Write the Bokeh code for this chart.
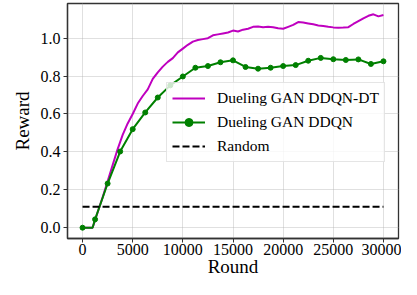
from bokeh.plotting import figure
from bokeh.models import FixedTicker, NumeralTickFormatter, Range1d, Legend, LegendItem
from bokeh.embed import file_html
from bokeh.resources import INLINE

# DDQN-DT (magenta), sampled every 500 rounds
dt_rounds = list(range(0, 30001, 500))
dt_reward = [0.0, 0.0, 0.0, 0.08, 0.16, 0.245, 0.33, 0.415, 0.49, 0.55,
             0.60, 0.655, 0.695, 0.73, 0.785, 0.82, 0.85, 0.875, 0.895, 0.925,
             0.945, 0.965, 0.982, 0.99, 0.995, 1.0, 1.015, 1.02, 1.025, 1.03,
             1.04, 1.035, 1.045, 1.05, 1.06, 1.062, 1.058, 1.06, 1.058, 1.052,
             1.05, 1.06, 1.07, 1.085, 1.083, 1.078, 1.073, 1.067, 1.064, 1.06,
             1.057, 1.055, 1.056, 1.058, 1.075, 1.09, 1.105, 1.118, 1.126, 1.115,
             1.122]

# DDQN (green), markers every 1250 rounds
ddqn_rounds = [0, 1250, 2500, 3750, 5000, 6250, 7500, 8750, 10000, 11250,
               12500, 13750, 15000, 16250, 17500, 18750, 20000, 21250, 22500,
               23750, 25000, 26250, 27500, 28750, 30000]
ddqn_reward = [0.0, 0.044, 0.233, 0.402, 0.52, 0.608, 0.687, 0.751, 0.798, 0.844,
               0.853, 0.873, 0.883, 0.848, 0.839, 0.844, 0.853, 0.858, 0.881,
               0.896, 0.889, 0.885, 0.888, 0.864, 0.878]
ddqn_line_rounds = [0, 1000] + ddqn_rounds[1:]
ddqn_line_reward = [0.0, 0.0] + ddqn_reward[1:]

random_rounds = [0, 30000]
random_reward = [0.11, 0.11]

x_ticks = [0, 5000, 10000, 15000, 20000, 25000, 30000]
y_ticks = [0.0, 0.2, 0.4, 0.6, 0.8, 1.0]

FONT = "Liberation Serif"

p = figure(width=401, height=279, output_backend="svg", toolbar_location=None,
           x_range=Range1d(-1500, 31500), y_range=Range1d(-0.057, 1.183),
           min_border_left=67, min_border_right=3, min_border_top=3, min_border_bottom=30)

p.background_fill_color = "white"
p.border_fill_color = "white"
p.outline_line_color = "#333333"
p.outline_line_width = 1.3

r1 = p.line(dt_rounds, dt_reward, line_color="#BF00BF", line_width=2)
r2 = p.line(ddqn_line_rounds, ddqn_line_reward, line_color="#008000", line_width=2)
r3 = p.scatter(ddqn_rounds, ddqn_reward, size=5, fill_color="#008000", line_color="#008000")
r4 = p.line(random_rounds, random_reward, line_color="black", line_width=2, line_dash="7 3")

p.xaxis.ticker = FixedTicker(ticks=x_ticks)
p.yaxis.ticker = FixedTicker(ticks=y_ticks)
p.yaxis.formatter = NumeralTickFormatter(format="0.0")

for ax in (p.xaxis, p.yaxis):
    ax.axis_line_color = "#333333"
    ax.axis_line_width = 1.3
    ax.major_tick_line_color = "#333333"
    ax.major_tick_out = 4
    ax.major_tick_in = 0
    ax.minor_tick_line_color = None
    ax.major_label_text_font = FONT
    ax.major_label_text_font_size = "16px"
    ax.major_label_text_color = "black"
    ax.axis_label_text_font = FONT
    ax.axis_label_text_font_size = "19px"
    ax.axis_label_text_font_style = "normal"
    ax.axis_label_text_color = "black"

p.xaxis.axis_label = "Round"
p.yaxis.axis_label = "Reward"
p.xaxis.major_label_standoff = 1
p.xaxis.axis_label_standoff = -2
p.yaxis.major_label_standoff = 3
p.yaxis.axis_label_standoff = 5

p.grid.grid_line_color = "#b0b0b0"
p.grid.grid_line_dash = "1 1"
p.grid.grid_line_width = 0.8

legend = Legend(items=[
    LegendItem(label="Dueling GAN DDQN-DT", renderers=[r1]),
    LegendItem(label="Dueling GAN DDQN", renderers=[r2, r3]),
    LegendItem(label="Random", renderers=[r4]),
], location=(99, 76))
legend.label_text_font = FONT
legend.label_text_font_size = "15.5px"
legend.label_text_color = "black"
legend.glyph_width = 33
legend.label_standoff = 12
legend.spacing = 4
legend.padding = 5
legend.margin = 0
legend.border_line_color = "#cccccc"
legend.background_fill_alpha = 0.8
p.add_layout(legend, "center")

open("out.html", "w").write(file_html(p, INLINE))
